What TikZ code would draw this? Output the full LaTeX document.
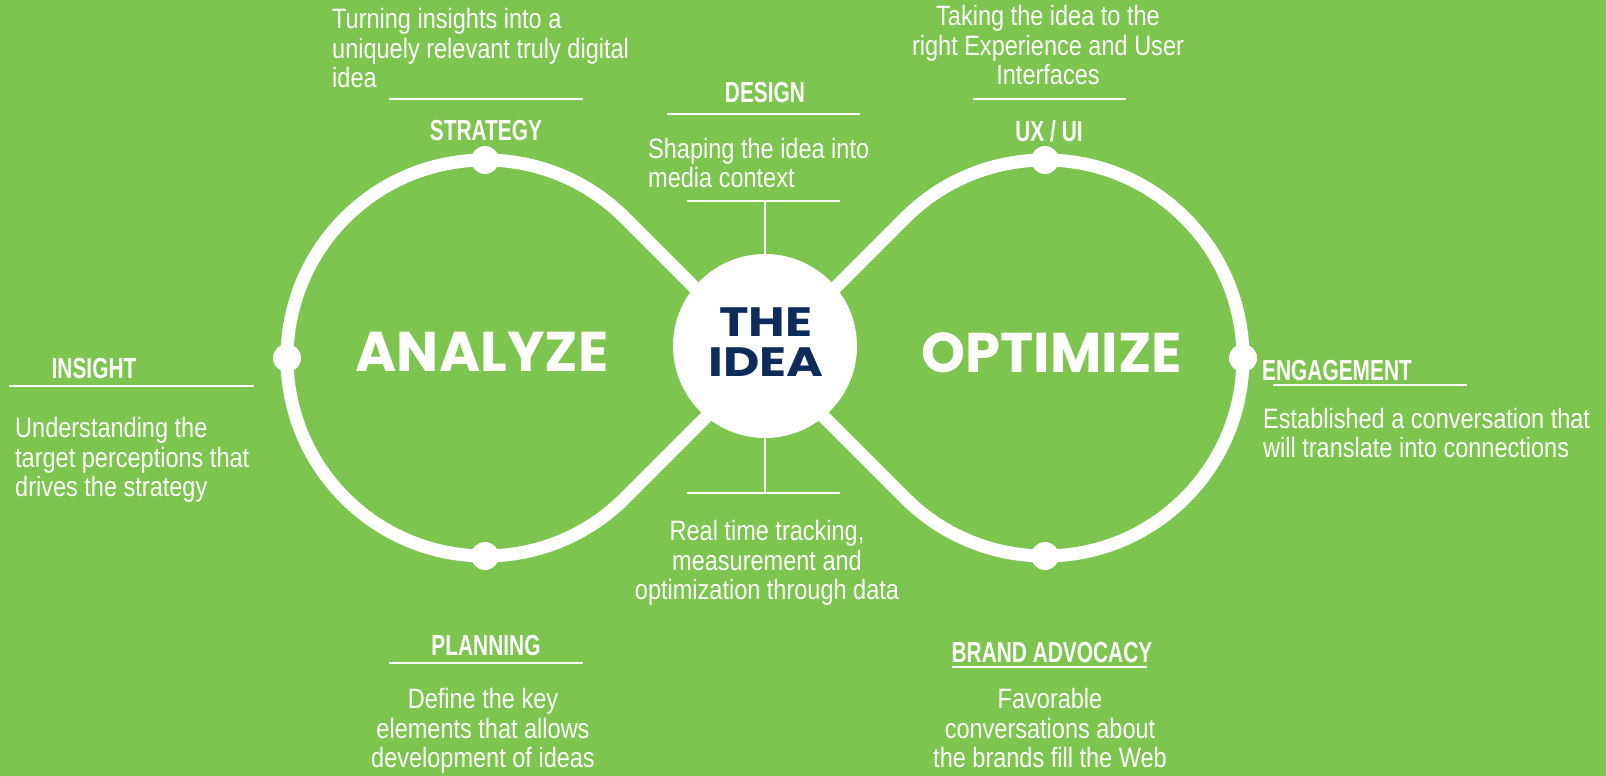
\documentclass[tikz,border=0pt]{standalone}
\usepackage{fontspec}
\setmainfont{Liberation Sans}
\newfontfamily\bodyfont{Liberation Sans}[FakeStretch=0.84]
\newfontfamily\headfont{Liberation Sans}[FakeStretch=0.72]
\newfontfamily\bigfont{Poppins}
\newfontfamily\ideafont{Poppins}[FakeStretch=1.22]
\definecolor{bggreen}{RGB}{126,197,80}
\definecolor{ideablue}{RGB}{14,44,90}
\begin{document}
\begin{tikzpicture}[x=1pt,y=1pt,
  loopline/.style={white, line width=13pt, line join=round},
  rule/.style={white, line width=2pt},
  head/.style={text=white, inner sep=0pt, font=\headfont\bfseries\fontsize{29}{31}\selectfont},
  body/.style={text=white, inner sep=0pt, font=\bodyfont\fontsize{28}{29.5}\selectfont},
  bodyl/.style={body, align=left},
  bodyc/.style={body, align=center},
  dot/.style={circle, fill=white, minimum size=28pt, inner sep=0pt},
  big/.style={text=white, inner sep=0pt, font=\bigfont\bfseries\fontsize{56}{60}\selectfont}]
\useasboundingbox (0,0) rectangle (1606,776);
\fill[bggreen] (0,0) rectangle (1606,776);

% infinity loops
\coordinate (X) at (765,418);
\draw[loopline] (X) -- (625,558) arc[start angle=45,end angle=315,radius=198] -- cycle;
\draw[loopline] (X) -- (905,558) arc[start angle=135,end angle=-135,radius=198] -- cycle;

% central idea
\node[circle, fill=white, minimum size=184pt, inner sep=0pt] (idea) at (765,430) {};
\node[text=ideablue, inner sep=0pt, align=center, font=\ideafont\bfseries\fontsize{41}{40}\selectfont] (ideatext) at (766,434) {THE\\IDEA};

% dots
\node[dot] (strategydot) at (485,616) {};
\node[dot] (insightdot) at (287,418) {};
\node[dot] (planningdot) at (485,220) {};
\node[dot] (uxdot) at (1045,616) {};
\node[dot] (engagedot) at (1243,418) {};
\node[dot] (branddot) at (1045,220) {};

% loop titles
\node[big, anchor=base] (analyze) at (482,404) {ANALYZE};
\node[big, anchor=base] (optimize) at (1052,403) {OPTIMIZE};

% INSIGHT
\node[head, anchor=base] (insight) at (94,397) {INSIGHT};
\coordinate (insightL) at (9,390); \coordinate (insightR) at (254,390);
\draw[rule] (insightL) -- (insightR);
\node[bodyl, anchor=base west] (insighttext) at (15,279) {Understanding the\\target perceptions that\\drives the strategy};

% STRATEGY
\node[bodyl, anchor=base west] (strategytext) at (332,688) {Turning insights into a\\uniquely relevant truly digital\\idea};
\coordinate (strategyL) at (389,677); \coordinate (strategyR) at (583,677);
\draw[rule] (strategyL) -- (strategyR);
\node[head, anchor=base] (strategy) at (486,635) {STRATEGY};

% DESIGN
\node[head, anchor=base] (design) at (765,673) {DESIGN};
\coordinate (designL) at (667,662); \coordinate (designR) at (860,662);
\draw[rule] (designL) -- (designR);
\node[bodyl, anchor=base west] (designtext) at (648,588) {Shaping the idea into\\media context};
\coordinate (designbL) at (687,575); \coordinate (designbR) at (840,575); \coordinate (designJ) at (765,575);
\draw[rule] (designbL) -- (designbR);
\draw[rule] (idea.north) -- (designJ);

% UX / UI
\node[bodyc, anchor=base] (uxtext) at (1048,691) {Taking the idea to the\\right Experience and User\\Interfaces};
\coordinate (uxL) at (973,677); \coordinate (uxR) at (1126,677);
\draw[rule] (uxL) -- (uxR);
\node[head, anchor=base] (ux) at (1049,634) {UX / UI};

% ENGAGEMENT
\node[head, anchor=base west] (engage) at (1262,395) {ENGAGEMENT};
\coordinate (engageL) at (1273,391); \coordinate (engageR) at (1467,391);
\draw[rule] (engageL) -- (engageR);
\node[bodyl, anchor=base west] (engagetext) at (1263,318) {Established a conversation that\\will translate into connections};

% DATA
\coordinate (dataL) at (687,283); \coordinate (dataR) at (840,283); \coordinate (dataJ) at (765,283);
\draw[rule] (dataL) -- (dataR);
\draw[rule] (idea.south) -- (dataJ);
\node[bodyc, anchor=base] (datatext) at (767,176) {Real time tracking,\\measurement and\\optimization through data};

% PLANNING
\node[head, anchor=base] (planning) at (486,120) {PLANNING};
\coordinate (planningL) at (389,113); \coordinate (planningR) at (583,113);
\draw[rule] (planningL) -- (planningR);
\node[bodyc, anchor=base] (planningtext) at (483,8) {Define the key\\elements that allows\\development of ideas};

% BRAND ADVOCACY
\node[head, anchor=base] (brand) at (1052,113) {BRAND ADVOCACY};
\coordinate (brandL) at (952,109); \coordinate (brandR) at (1147,109);
\draw[rule] (brandL) -- (brandR);
\node[bodyc, anchor=base] (brandtext) at (1050,8) {Favorable\\conversations about\\the brands fill the Web};
\end{tikzpicture}
\end{document}
